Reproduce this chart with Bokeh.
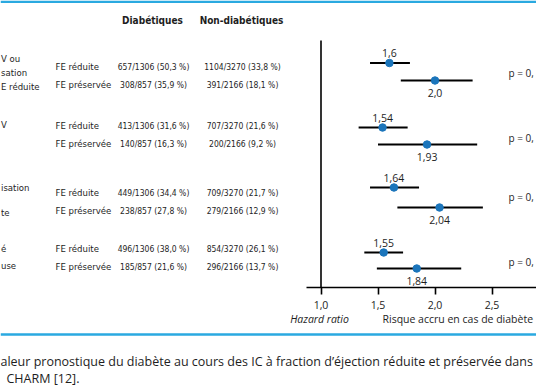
from bokeh.plotting import figure
from bokeh.models import Range1d, LinearAxis, FixedTicker, CustomJSTickFormatter, Span, ColumnDataSource
from bokeh.core.properties import value
from bokeh.embed import file_html
from bokeh.resources import INLINE

# ---------------- data ----------------
col_headers = ["Diabétiques", "Non-diabétiques"]
fe_types = ["FE réduite", "FE préservée"] * 4
diab = ["657/1306 (50,3 %)", "308/857 (35,9 %)",
        "413/1306 (31,6 %)", "140/857 (16,3 %)",
        "449/1306 (34,4 %)", "238/857 (27,8 %)",
        "496/1306 (38,0 %)", "185/857 (21,6 %)"]
nondiab = ["1104/3270 (33,8 %)", "391/2166 (18,1 %)",
           "707/3270 (21,6 %)", "200/2166 (9,2 %)",
           "709/3270 (21,7 %)", "279/2166 (12,9 %)",
           "854/3270 (26,1 %)", "296/2166 (13,7 %)"]
hr = [1.6, 2.0, 1.54, 1.93, 1.64, 2.04, 1.55, 1.84]
hr_lo = [1.43, 1.70, 1.33, 1.50, 1.43, 1.67, 1.38, 1.49]
hr_hi = [1.78, 2.33, 1.76, 2.37, 1.86, 2.42, 1.72, 2.23]
hr_labels = ["1,6", "2,0", "1,54", "1,93", "1,64", "2,04", "1,55", "1,84"]
p_labels = ["p = 0,", "p = 0,", "p = 0,", "p = 0,"]
outcome_fragments = [["V ou", "sation", "E réduite"], ["V"], ["isation", "te"], ["é", "use"]]
axis_ticks = [1.0, 1.5, 2.0, 2.5]
axis_title = "Hazard ratio"
axis_note = "Risque accru en cas de diabète"
caption = ["aleur pronostique du diabète au cours des IC à fraction d’éjection réduite et préservée dans",
           "CHARM [12]."]

# ---------------- layout ----------------
W, H = 536, 386
PX0, PPU = 320.5, 114.0          # pixel of HR = 1.0, pixels per HR unit


def hx(px):
    return 1.0 + (px - PX0) / PPU


row_y = [62.5, 80, 127, 144, 187, 207, 252, 268]
table_y = [66, 84, 125, 143, 192, 210, 248, 266]
p_y = [72, 137, 196, 261]
frag_y = [[58, 72, 86], [124], [187, 212], [248, 265]]

NARROW = "DejaVu Sans Condensed"
SANS = "Open Sans"
TXT = "#1e1e1e"
BLUE_LINE = "#2aa9e0"
DOT = "#1b75bb"

p = figure(width=W, height=H, output_backend="svg", toolbar_location=None,
           x_range=Range1d(hx(0), hx(W)), y_range=Range1d(H, 0),
           min_border=0, x_axis_type=None, y_axis_type=None)
p.outline_line_color = None
p.background_fill_color = "white"
p.border_fill_color = "white"

# x axis
ax = LinearAxis(fixed_location=287, bounds=(hx(306), hx(W)),
                ticker=FixedTicker(ticks=axis_ticks),
                formatter=CustomJSTickFormatter(code="return tick.toFixed(1).replace('.', ',');"))
ax.axis_line_width = 1.6
ax.axis_line_color = "black"
ax.major_tick_out = 7
ax.major_tick_in = 0
ax.major_tick_line_width = 1.6
ax.major_tick_line_color = "black"
ax.minor_tick_line_color = None
ax.major_label_standoff = 6
ax.major_label_text_font = SANS
ax.major_label_text_font_size = "10.5px"
ax.major_label_text_color = TXT
p.add_layout(ax, "below")

# vertical reference line at HR = 1
p.segment(x0=[1.0], y0=[40], x1=[1.0], y1=[287], line_color="black", line_width=1.6)

# blue rules
p.add_layout(Span(location=1.2, dimension="width", line_color=BLUE_LINE, line_width=2.4))
p.add_layout(Span(location=334, dimension="width", line_color=BLUE_LINE, line_width=2.4))

# forest plot
src = ColumnDataSource(dict(hr=hr, lo=hr_lo, hi=hr_hi, y=row_y, lab=hr_labels,
                            laby=[y - 10 if i % 2 == 0 else y + 12.5 for i, y in enumerate(row_y)]))
p.segment(x0="lo", y0="y", x1="hi", y1="y", source=src, line_color="black", line_width=2.2)
p.scatter(x="hr", y="y", source=src, size=7.5, fill_color=DOT, line_color=DOT)
p.text(x="hr", y="laby", text="lab", source=src, text_align="center", text_baseline="middle",
       text_font=value(SANS), text_font_size=value("10.5px"), text_color=TXT)

# p values
p.text(x=[hx(508)] * 4, y=p_y, text=p_labels, text_align="left", text_baseline="middle",
       text_font=value(SANS), text_font_size=value("10px"), text_color=TXT)

# table headers
p.text(x=[hx(152), hx(241)], y=[20, 20], text=col_headers, text_align="center", text_baseline="middle",
       text_font=value(NARROW), text_font_size=value("10px"), text_font_style="bold", text_color=TXT)

# table rows
p.text(x=[hx(55)] * 8, y=table_y, text=fe_types, text_align="left", text_baseline="middle",
       text_font=value(NARROW), text_font_size=value("9.5px"), text_color=TXT)
p.text(x=[hx(153)] * 8, y=table_y, text=diab, text_align="center", text_baseline="middle",
       text_font=value(NARROW), text_font_size=value("8.5px"), text_color=TXT)
p.text(x=[hx(242)] * 8, y=table_y, text=nondiab, text_align="center", text_baseline="middle",
       text_font=value(NARROW), text_font_size=value("8.5px"), text_color=TXT)

# outcome label fragments (cut at left edge in the source figure)
fx, fy, ft = [], [], []
for frags, ys in zip(outcome_fragments, frag_y):
    for t, yy in zip(frags, ys):
        fx.append(hx(0.5))
        fy.append(yy)
        ft.append(t)
p.text(x=fx, y=fy, text=ft, text_align="left", text_baseline="middle",
       text_font=value(NARROW), text_font_size=value("9.5px"), text_color=TXT)

# axis texts
p.text(x=[hx(319)], y=[318], text=[axis_title], text_align="center", text_baseline="middle",
       text_font=value(SANS), text_font_size=value("10.5px"), text_font_style="italic", text_color=TXT)
p.text(x=[hx(382)], y=[318], text=[axis_note], text_align="left", text_baseline="middle",
       text_font=value(SANS), text_font_size=value("10.5px"), text_color=TXT)

# caption
p.text(x=[hx(0), hx(6)], y=[361, 378], text=caption, text_align="left", text_baseline="middle",
       text_font=value(SANS), text_font_size=value("12.5px"), text_color=TXT)

p.styles = {"position": "absolute", "left": "0px", "top": "0px"}

open("out.html", "w").write(file_html(p, INLINE))
